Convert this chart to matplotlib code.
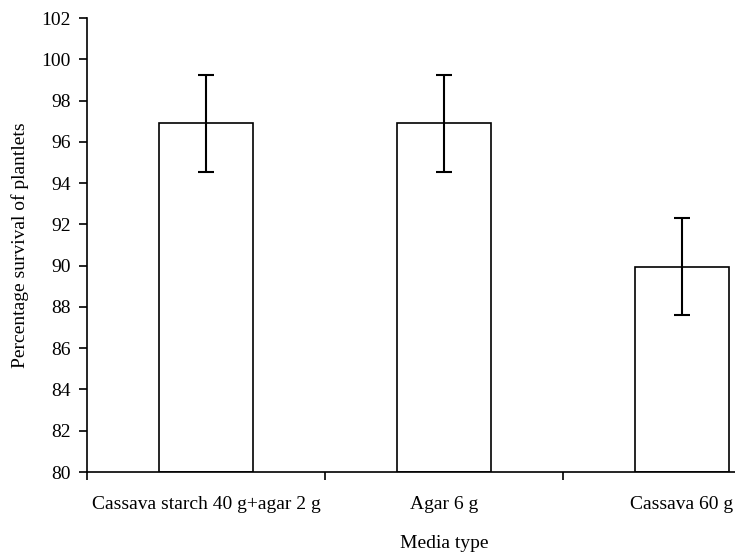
import numpy as np
import matplotlib.pyplot as plt

plt.rcParams['font.family'] = ['Liberation Serif', 'DejaVu Serif']

media = ['Cassava starch 40 g+agar 2 g', 'Agar 6 g', 'Cassava 60 g']
survival = [96.9, 96.9, 89.95]
err = [2.35, 2.35, 2.35]

fig = plt.figure(figsize=(7.35, 5.55), dpi=100)
ax = fig.add_axes([0.1184, 0.1495, 0.9714, 0.818])

x = np.arange(len(media))
ax.bar(x, np.array(survival) - 80, bottom=80, width=0.395, color='white',
       edgecolor='black', linewidth=1.2, zorder=2)
ax.errorbar(x, survival, yerr=err, fmt='none', ecolor='black',
            elinewidth=1.5, capsize=6, capthick=1.5, zorder=3)

ax.set_xlim(-0.5, 2.5)
ax.set_ylim(80, 102)
ax.set_yticks(np.arange(80, 103, 2))
ax.set_xticks(x)
ax.set_xticklabels(media)
ax.set_xticks([-0.5, 0.5, 1.5, 2.5], minor=True)
ax.tick_params(axis='x', which='major', length=0, pad=17, labelsize=14)
ax.tick_params(axis='x', which='minor', length=6, width=1.2, direction='out')
ax.tick_params(axis='y', length=6, width=1.2, direction='out', labelsize=14, pad=5.5)

for s in ['top', 'right']:
    ax.spines[s].set_visible(False)
for s in ['left', 'bottom']:
    ax.spines[s].set_linewidth(1.2)

ax.set_xlabel('Media type', fontsize=14, labelpad=16)
ax.set_ylabel('Percentage survival of plantlets', fontsize=14, labelpad=9)

fig.savefig('out.png', dpi=100)
